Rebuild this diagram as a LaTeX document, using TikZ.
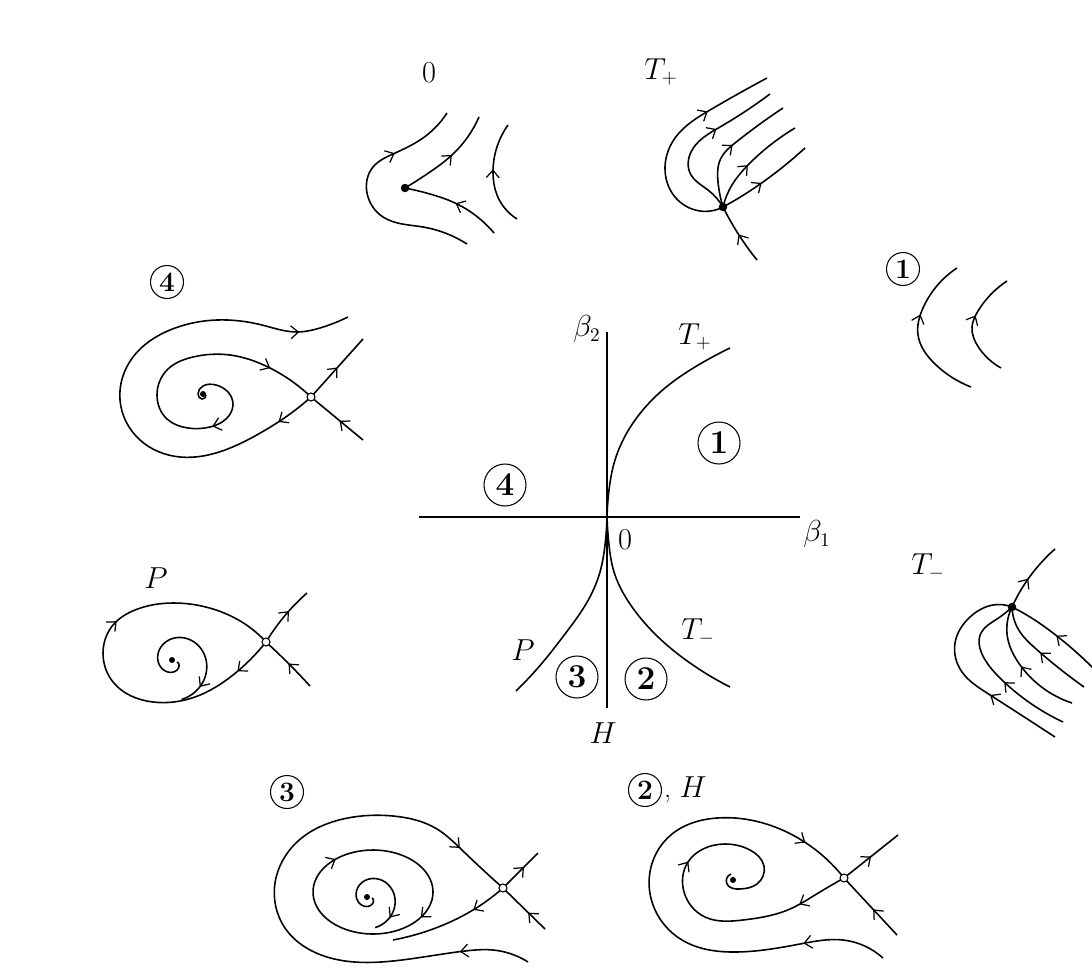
\documentclass[tikz,border=0pt]{standalone}
\usepackage{amsmath,amssymb}
\usetikzlibrary{arrows.meta,decorations.markings,backgrounds,hobby}

\tikzset{
  orbit/.style={line width=0.9pt},
  axis/.style={line width=0.6pt},
  flow/.style={postaction={decorate,decoration={markings,
      mark=at position #1 with {\arrow{Straight Barb[length=1.5mm,width=2.6mm,line width=0.7pt]}}}}},
  focus/.style={circle,fill,inner sep=0pt,minimum size=1.2mm},
  equil/.style={circle,fill,inner sep=0pt,minimum size=1.7mm},
  saddle/.style={circle,draw,fill=white,line width=0.6pt,inner sep=0pt,minimum size=1.6mm},
  rnum/.style={circle,draw,line width=0.6pt,inner sep=0pt,minimum size=6.6mm,
      font=\fontsize{16}{16}\selectfont\bfseries},
  bignum/.style={rnum,minimum size=8.4mm,font=\fontsize{19}{19}\selectfont\bfseries},
  lab/.style={font=\fontsize{16}{19}\selectfont}
}

\begin{document}
\begin{tikzpicture}[x=0.02cm,y=-0.02cm]
\useasboundingbox (0,0) rectangle (1092,970);

% parameter plane
\coordinate (O) at (607,517);
\coordinate (xl) at (419,517);
\coordinate (xr) at (800,517);
\coordinate (yt) at (607,332);
\coordinate (yb) at (607,708);
\draw[axis] (xl) -- (xr);
\draw[axis] (yt) -- (yb);
\draw[orbit] (O) to[curve through={(609,490) .. (615,460) .. (633,423) .. (665,388) .. (700,364)}] (730,348);
\draw[orbit] (O) to[curve through={(609,545) .. (614,572) .. (630,604) .. (655,634) .. (690,663)}] (730,687);
\draw[orbit] (O) to[curve through={(605,545) .. (600,572) .. (586,604) .. (565,634) .. (543,662)}] (516,691);
\node[lab] (b2) at (587,329) {$\beta_2$};
\node[lab] (b1) at (817,534) {$\beta_1$};
\node[lab] (zero) at (625,540) {$0$};
\node[lab] (tpl) at (695,337) {$T_+$};
\node[lab] (tml) at (698,632) {$T_-$};
\node[lab] (pl) at (523,650) {$P$};
\node[lab] (hl) at (603,733) {$H$};
\node[bignum] (r1) at (719,443) {1};
\node[bignum] (r4) at (505,485) {4};
\node[bignum] (r3) at (577,677) {3};
\node[bignum] (r2) at (646,679) {2};

% portrait 0
\node[lab] (l0) at (429,73) {$0$};
\coordinate (c0) at (405,188);
\node[equil] (e0) at (c0) {};
\begin{scope}[on background layer]
\draw[orbit,flow=0.72] (467,244) to[curve through={(423,227) .. (383,217) .. (367,193) .. (373,167) .. (393,154) .. (423,138)}] (447,113);
\draw[orbit,flow=0.55] (c0) to[curve through={(430,172) .. (452,155)}] (479,117);
\draw[orbit,flow=0.48] (494,233) to[curve through={(455,203) .. (430,194)}] (c0);
\draw[orbit,flow=0.55] (517,219) to[curve through={(497,195) .. (493,173)}] (508,125);
\end{scope}

% portrait T+
\node[lab] (ltp) at (661,72) {$T_+$};
\coordinate (ctp) at (723,207);
\node[equil] (tp) at (ctp) {};
\begin{scope}[on background layer]
\draw[orbit,flow=0.5] (757,260) to[curve through={(737,232)}] (ctp);
\draw[orbit,flow=0.7] (ctp) to[curve through={(700,211) .. (675,197) .. (665,167) .. (675,138) .. (710,110)}] (767,78);
\draw[orbit,flow=0.62] (ctp) to[curve through={(708,190) .. (691,175) .. (691,152) .. (720,127)}] (770,94);
\draw[orbit,flow=0.52] (ctp) to[curve through={(718,182) .. (721,158) .. (735,143)}] (783,108);
\draw[orbit,flow=0.45] (ctp) to[curve through={(732,185) .. (750,163)}] (795,128);
\draw[orbit,flow=0.45] (ctp) to[curve through={(742,196) .. (763,182)}] (805,148);
\end{scope}

% portrait 1
\node[rnum] (l1) at (903,269) {1};
\draw[orbit,flow=0.62] (971,387) to[curve through={(935,364) .. (918,335) .. (923,308)}] (957,268);
\draw[orbit,flow=0.58] (1001,368) to[curve through={(979,348) .. (972,327) .. (978,311)}] (1007,281);

% portrait T-
\node[lab] (ltm) at (928,567) {$T_-$};
\coordinate (ctm) at (1012,607);
\node[equil] (tm) at (ctm) {};
\begin{scope}[on background layer]
\draw[orbit,flow=0.45] (ctm) to[curve through={(1024,585)}] (1055,549);
\draw[orbit,flow=0.35] (1055,737) to[curve through={(987,693) .. (962,672) .. (955,643) .. (970,617) .. (993,605)}] (ctm);
\draw[orbit,flow=0.42] (1063,722) to[curve through={(1002,680) .. (984,658) .. (981,633) .. (997,619)}] (ctm);
\draw[orbit,flow=0.5] (1072,703) to[curve through={(1018,662) .. (1008,640)}] (ctm);
\draw[orbit,flow=0.5] (1084,687) to[curve through={(1035,648) .. (1020,632)}] (ctm);
\draw[orbit,flow=0.48] (1093,668) to[curve through={(1053,633) .. (1030,617)}] (ctm);
\end{scope}

% portrait 4
\node[rnum] (l4) at (167,282) {4};
\node[focus] (f4) at (203,394) {};
\coordinate (cs4) at (311,397);
\node[saddle] (s4) at (cs4) {};
\begin{scope}[on background layer]
\draw[orbit,flow=0.51] (cs4) -- (363,339);
\draw[orbit,flow=0.45] (363,440) -- (cs4);
\draw[orbit,flow=0.08,flow=0.9] (cs4) to[curve through={(290,414) .. (262,432) .. (225,450) .. (180,457) .. (140,440) .. (120,400) .. (133,357) .. (170,330) .. (217,320) .. (262,325) .. (297,332) .. (320,328)}] (348,317);
\draw[orbit,flow=0.27,flow=0.86] (206,395) to[curve through={(202,399) .. (198,394) .. (203,386) .. (216,385) .. (228,392) .. (233,405) .. (226,419) .. (210,427) .. (188,428) .. (167,419) .. (157,395) .. (167,370) .. (193,357) .. (230,355) .. (268,367)}] (cs4);
\end{scope}

% portrait P
\node[lab] (lP) at (156,578) {$P$};
\node[focus] (fP) at (172,660) {};
\coordinate (csP) at (266,642);
\node[saddle] (sP) at (csP) {};
\begin{scope}[on background layer]
\draw[orbit,flow=0.6] (csP) to[curve through={(288,612)}] (307,593);
\draw[orbit,flow=0.5] (310,686) to[curve through={(288,663)}] (csP);
\draw[orbit,flow=0.1,flow=0.6] (csP) to[curve through={(233,675) .. (195,697) .. (153,702) .. (113,682) .. (103,653) .. (113,625) .. (135,610) .. (173,603) .. (213,609) .. (245,624)}] (csP);
\draw[orbit,flow=0.86] plot[domain=0:440,samples=90,variable=\t] ({175+(2+36*\t/440)*cos(\t)},{662+(2+36*\t/440)*sin(\t)});
\end{scope}

% portrait 3
\node[rnum] (l3) at (287,792) {3};
\node[focus] (f3) at (367,897) {};
\coordinate (cs3) at (503,888);
\node[saddle] (s3) at (cs3) {};
\begin{scope}[on background layer]
\draw[orbit,flow=0.6] (cs3) -- (538,853);
\draw[orbit,flow=0.4] (545,929) -- (cs3);
\draw[orbit,flow=0.12,flow=0.9] (528,962) to[curve through={(493,950) .. (465,951) .. (393,961) .. (327,957) .. (285,928) .. (275,883) .. (297,842) .. (343,819) .. (393,816) .. (437,829) .. (462,850)}] (cs3);
\draw[orbit,flow=0.3] (cs3) to[curve through={(473,910) .. (433,929)}] (393,940);
\draw[orbit,flow=0.09,flow=0.63] plot[domain=0:360,samples=90,variable=\t] ({373+60*cos(\t)},{892+42*sin(\t)});
\draw[orbit,flow=0.86] plot[domain=0:440,samples=90,variable=\t] ({370+(2+28*\t/440)*cos(\t)},{898+(2+28*\t/440)*sin(\t)});
\end{scope}

% portrait 2, H
\node[rnum] (l2) at (645,790) {2};
\node[lab,anchor=west,inner sep=1pt] (l2h) at (l2.east) {, $H$};
\node[focus] (f2) at (733,880) {};
\coordinate (cs2) at (844,878);
\node[saddle] (s2) at (cs2) {};
\begin{scope}[on background layer]
\draw[orbit,flow=0.5] (cs2) -- (898,835);
\draw[orbit,flow=0.45] (897,935) -- (cs2);
\draw[orbit,flow=0.16,flow=0.9] (883,958) to[curve through={(843,940) .. (800,944) .. (737,952) .. (682,940) .. (653,905) .. (651,867) .. (672,834) .. (717,818) .. (763,823) .. (803,841)}] (cs2);
\draw[orbit,flow=0.14,flow=0.58] (cs2) to[curve through={(815,895) .. (790,909) .. (743,920) .. (705,917) .. (684,892) .. (688,862) .. (703,849) .. (725,844) .. (750,850) .. (764,866) .. (757,884) .. (740,889) .. (727,884)}] (731,874);
\end{scope}
\end{tikzpicture}
\end{document}
